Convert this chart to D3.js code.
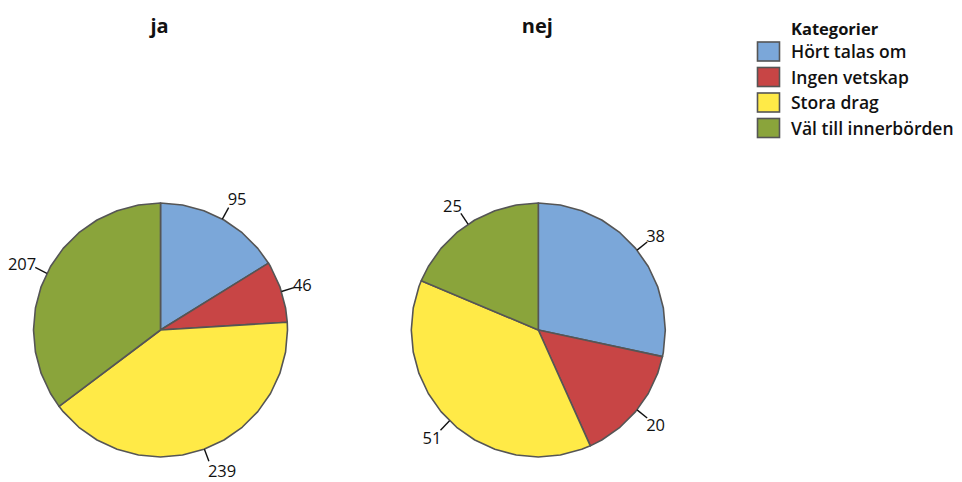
<!DOCTYPE html>
<html><head><meta charset="utf-8">
<script src="https://cdn.jsdelivr.net/npm/d3@7"></script>
<style>
body{margin:0;background:#fff;}
svg{display:block;font-family:"Open Sans","Noto Sans",sans-serif;}
</style></head>
<body><svg id="c" width="962" height="482"></svg>
<script>
const categories = ["Hört talas om", "Ingen vetskap", "Stora drag", "Väl till innerbörden"];
const panelTitles = ["ja", "nej"];
const jaValues = [95, 46, 239, 207];
const nejValues = [38, 20, 51, 25];
const legendTitle = "Kategorier";
const colors = ["#7ba7d9", "#c84545", "#ffea47", "#8aa43b"];

const svg = d3.select("#c");
const R = 127;
const color = d3.scaleOrdinal().domain(categories).range(colors);
const cx = d3.scalePoint().domain(panelTitles).range([160.5, 538.3]);
const cy = 330;
const pie = d3.pie().sort(null).value(d => d.v);
const step = Math.PI * 2 / 36;
const radial = d3.lineRadial().angle(d => d[0]).radius(d => d[1]).curve(d3.curveLinearClosed);

function slicePoints(a) {
  const pts = [[0, 0], [a.startAngle, R]];
  let k = Math.floor(a.startAngle / step + 1e-9) + 1;
  while (k * step < a.endAngle - 1e-9) { pts.push([k * step, R]); k++; }
  pts.push([a.endAngle, R]);
  return pts;
}

[[panelTitles[0], jaValues], [panelTitles[1], nejValues]].forEach(([title, vals]) => {
  const data = categories.map((c, i) => ({c, v: vals[i]}));
  const g = svg.append("g").attr("transform", `translate(${cx(title)},${cy})`);
  svg.append("text").attr("x", cx(title) - 1).attr("y", 33)
    .attr("text-anchor", "middle").attr("font-size", 20).attr("font-weight", 700)
    .attr("fill", "#111").text(title);
  const arcs = pie(data);
  g.selectAll("path.s").data(arcs).join("path").attr("class", "s")
    .attr("d", a => radial(slicePoints(a)))
    .attr("fill", a => color(a.data.c))
    .attr("stroke", "#555").attr("stroke-width", 1.6).attr("stroke-linejoin", "round");
  arcs.forEach(a => {
    const m = (a.startAngle + a.endAngle) / 2;
    const s = Math.sin(m), c = Math.cos(m);
    const x0 = R * s, y0 = -R * c, x1 = (R + 13) * s, y1 = -(R + 13) * c;
    g.append("line").attr("x1", x0).attr("y1", y0).attr("x2", x1).attr("y2", y1)
      .attr("stroke", "#111").attr("stroke-width", 1.4);
    const t = g.append("text").attr("font-size", 16.5).attr("fill", "#111")
      .attr("dominant-baseline", "central").text(a.data.v);
    const anchor = s > 0.1 ? "start" : (s < -0.1 ? "end" : "middle");
    t.attr("text-anchor", anchor)
      .attr("x", x1 + (s > 0.1 ? -1 : (s < -0.1 ? 1 : 0)))
      .attr("y", y1 - 10 * c);
  });
});

// legend
const lg = svg.append("g");
lg.append("text").attr("x", 791).attr("y", 35).attr("font-size", 16.5).attr("font-weight", 700)
  .attr("fill", "#111").text(legendTitle);
const ly = d3.scaleLinear().domain([0, 1]).range([42, 67.5]);
categories.forEach((c, i) => {
  lg.append("rect").attr("x", 757.5).attr("y", ly(i)).attr("width", 22).attr("height", 19)
    .attr("fill", color(c)).attr("stroke", "#555").attr("stroke-width", 1.6);
  lg.append("text").attr("x", 791).attr("y", ly(i) + 16).attr("font-size", 17.5).attr("font-weight", 600)
    .attr("fill", "#111").text(c);
});
</script></body></html>
